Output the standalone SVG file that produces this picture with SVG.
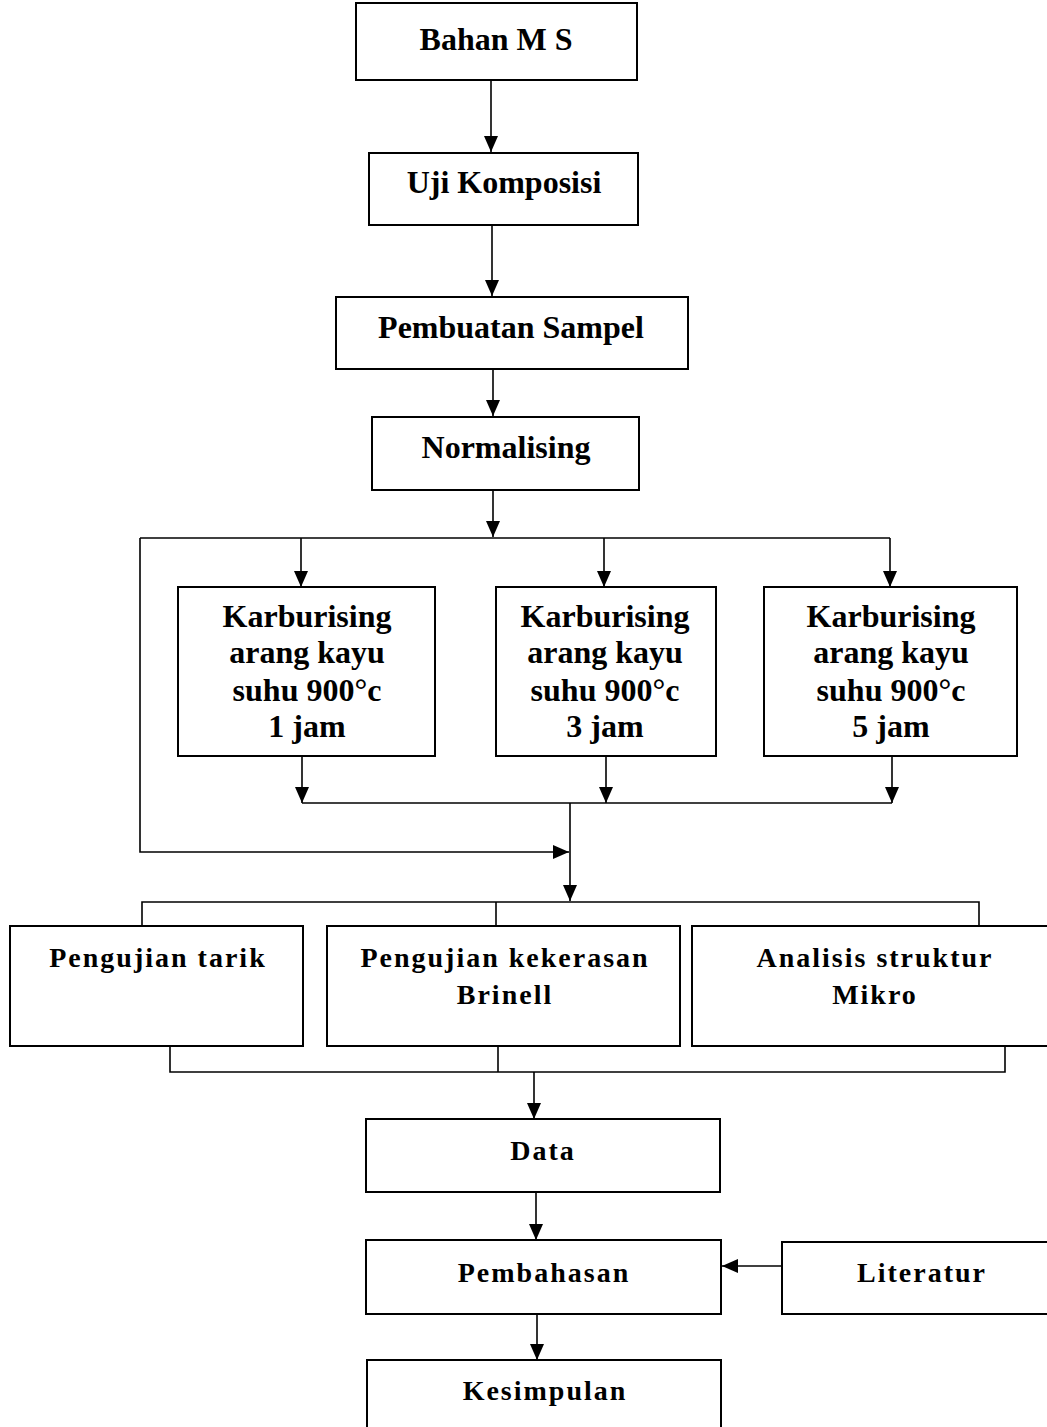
<svg xmlns="http://www.w3.org/2000/svg" width="1047" height="1427" viewBox="0 0 1047 1427">
<defs>
<marker id="arr" markerUnits="userSpaceOnUse" markerWidth="16" markerHeight="16" viewBox="0 0 16 16" refX="16" refY="8" orient="auto">
<path d="M0,1 L16,8 L0,15 Z" fill="#000"/>
</marker>
</defs>
<style>
.box{fill:#fff;stroke:#000;stroke-width:2}
.ln{fill:none;stroke:#000;stroke-width:1.6}
.t{font-family:"Liberation Serif","Times New Roman",serif;font-weight:bold;font-size:32px;text-anchor:middle;fill:#000}
.s{font-family:"Liberation Serif","Times New Roman",serif;font-weight:bold;font-size:28px;letter-spacing:2px;text-anchor:middle;fill:#000}
</style>
<rect width="1047" height="1427" fill="#fff"/>
<g id="connectors">
<path class="ln" d="M491,80 V152" marker-end="url(#arr)"/>
<path class="ln" d="M492,225 V296" marker-end="url(#arr)"/>
<path class="ln" d="M493,369 V416" marker-end="url(#arr)"/>
<path class="ln" d="M493,490 V537" marker-end="url(#arr)"/>
<path class="ln" d="M140,538 H890"/>
<path class="ln" d="M301,538 V587" marker-end="url(#arr)"/>
<path class="ln" d="M604,538 V587" marker-end="url(#arr)"/>
<path class="ln" d="M890,538 V587" marker-end="url(#arr)"/>
<path class="ln" d="M140,538 V852 H569" marker-end="url(#arr)"/>
<path class="ln" d="M302,756 V803" marker-end="url(#arr)"/>
<path class="ln" d="M606,756 V803" marker-end="url(#arr)"/>
<path class="ln" d="M892,756 V803" marker-end="url(#arr)"/>
<path class="ln" d="M302,803 H892"/>
<path class="ln" d="M570,803 V901" marker-end="url(#arr)"/>
<path class="ln" d="M142,926 V902 H979 V926"/>
<path class="ln" d="M496,902 V926"/>
<path class="ln" d="M170,1046 V1072 H1005 V1046"/>
<path class="ln" d="M498,1046 V1072"/>
<path class="ln" d="M534,1072 V1119" marker-end="url(#arr)"/>
<path class="ln" d="M536,1192 V1240" marker-end="url(#arr)"/>
<path class="ln" d="M782,1266 H722" marker-end="url(#arr)"/>
<path class="ln" d="M537,1314 V1360" marker-end="url(#arr)"/>
</g>
<g id="bahan"><rect class="box" x="356" y="3" width="281" height="77"/><text class="t" x="496" y="50">Bahan M S</text></g>
<g id="uji"><rect class="box" x="369" y="153" width="269" height="72"/><text class="t" x="504" y="193">Uji Komposisi</text></g>
<g id="pembuatan"><rect class="box" x="336" y="297" width="352" height="72"/><text class="t" x="511" y="338">Pembuatan Sampel</text></g>
<g id="normalising"><rect class="box" x="372" y="417" width="267" height="73"/><text class="t" x="506" y="458">Normalising</text></g>
<g id="karb1"><rect class="box" x="178" y="587" width="257" height="169"/>
<text class="t" x="307" y="627">Karburising</text><text class="t" x="307" y="663">arang kayu</text><text class="t" x="307" y="701">suhu 900°c</text><text class="t" x="307" y="737">1 jam</text></g>
<g id="karb3"><rect class="box" x="496" y="587" width="220" height="169"/>
<text class="t" x="605" y="627">Karburising</text><text class="t" x="605" y="663">arang kayu</text><text class="t" x="605" y="701">suhu 900°c</text><text class="t" x="605" y="737">3 jam</text></g>
<g id="karb5"><rect class="box" x="764" y="587" width="253" height="169"/>
<text class="t" x="891" y="627">Karburising</text><text class="t" x="891" y="663">arang kayu</text><text class="t" x="891" y="701">suhu 900°c</text><text class="t" x="891" y="737">5 jam</text></g>
<g id="tarik"><rect class="box" x="10" y="926" width="293" height="120"/><text class="s" x="158" y="967">Pengujian tarik</text></g>
<g id="kekerasan"><rect class="box" x="327" y="926" width="353" height="120"/><text class="s" x="505" y="967">Pengujian kekerasan</text><text class="s" x="505" y="1004">Brinell</text></g>
<g id="analisis"><rect class="box" x="692" y="926" width="370" height="120"/><text class="s" x="875" y="967">Analisis struktur</text><text class="s" x="875" y="1004">Mikro</text></g>
<g id="data"><rect class="box" x="366" y="1119" width="354" height="73"/><text class="s" x="543" y="1160">Data</text></g>
<g id="pembahasan"><rect class="box" x="366" y="1240" width="355" height="74"/><text class="s" x="544" y="1282">Pembahasan</text></g>
<g id="literatur"><rect class="box" x="782" y="1242" width="280" height="72"/><text class="s" x="922" y="1282">Literatur</text></g>
<g id="kesimpulan"><rect class="box" x="367" y="1360" width="354" height="80"/><text class="s" x="545" y="1400">Kesimpulan</text></g>
</svg>
